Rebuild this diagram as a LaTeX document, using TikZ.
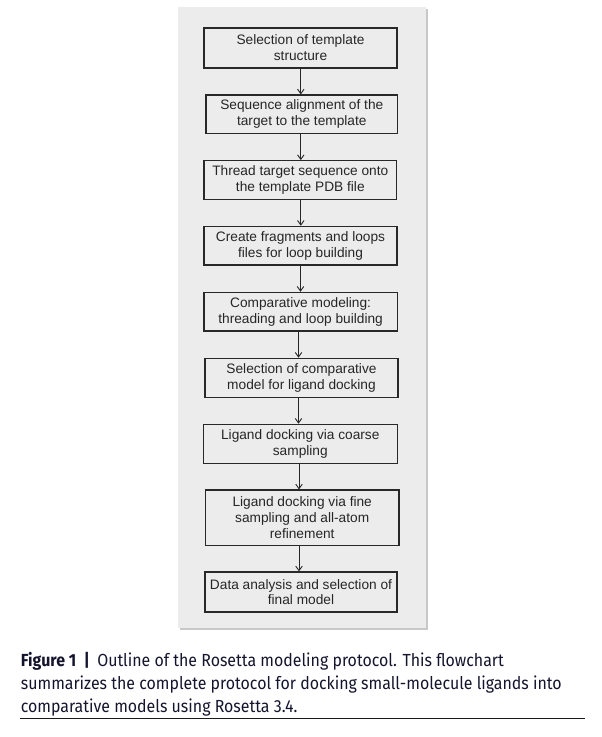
\documentclass[tikz,border=0pt]{standalone}
\usepackage{fontspec}
\setmainfont{Liberation Sans}
\newfontfamily\capfont[FakeStretch=0.91]{Fira Sans}
\usetikzlibrary{arrows.meta}
\definecolor{panelgray}{RGB}{236,236,236}
\definecolor{shadowgray}{RGB}{200,200,200}
\definecolor{boxline}{RGB}{40,40,40}
\definecolor{captext}{RGB}{20,20,45}
\tikzset{
  stepbox/.style={draw=boxline, line width=1.2pt, fill=panelgray, align=center,
    inner sep=0pt, text=black!85,
    font=\fontsize{13.7}{15.8}\selectfont},
  arr/.style={draw=black!85, line width=1pt,
    -{Straight Barb[length=4.5pt,width=6.5pt,line width=0.9pt]}},
  captext/.style={anchor=base west, inner sep=0pt, text=captext,
    font=\capfont\fontsize{17.5}{23}\selectfont}
}
\begin{document}
\begin{tikzpicture}[x=1pt,y=-1pt]
\useasboundingbox (0,0) rectangle (602,737);
% panel with slight shadow
\fill[shadowgray] (179.5,8.5) rectangle (427.5,629.5);
\fill[panelgray] (178,7) rectangle (426,628);
% boxes
\node[stepbox, minimum width=193pt, minimum height=40pt] (b1) at (300.5,48)
  {Selection of template\\structure};
\node[stepbox, minimum width=191.7pt, minimum height=38.3pt] (b2) at (301.8,114.2)
  {Sequence alignment of the\\target to the template};
\node[stepbox, minimum width=192.7pt, minimum height=38.6pt] (b3) at (300.3,180)
  {Thread target sequence onto\\the template PDB file};
\node[stepbox, minimum width=193pt, minimum height=38.7pt] (b4) at (300.5,245.7)
  {Create fragments and loops\\files for loop building};
\node[stepbox, minimum width=193.3pt, minimum height=38.7pt] (b5) at (300.6,311.7)
  {Comparative modeling:\\threading and loop building};
\node[stepbox, minimum width=193pt, minimum height=39pt] (b6) at (301.5,377.8)
  {Selection of comparative\\model for ligand docking};
\node[stepbox, minimum width=194pt, minimum height=39pt] (b7) at (300.3,443.8)
  {Ligand docking via coarse\\sampling};
\node[stepbox, minimum width=193.7pt, minimum height=55.3pt] (b8) at (302.2,517.7)
  {Ligand docking via fine\\sampling and all-atom\\refinement};
\node[stepbox, minimum width=192pt, minimum height=40pt] (b9) at (301,592)
  {Data analysis and selection of\\final model};
% connectors
\coordinate (a1) at (300.8,0);
\coordinate (a5) at (298.5,0);
\coordinate (a8) at (299,0);
\draw[arr] (b1.south -| a1) -- (b2.north -| a1);
\draw[arr] (b2.south -| a1) -- (b3.north -| a1);
\draw[arr] (b3.south -| a1) -- (b4.north -| a1);
\draw[arr] (b4.south -| b4) -- (b5.north -| b4);
\draw[arr] (b5.south -| a5) -- (b6.north -| a5);
\draw[arr] (b6.south -| a5) -- (b7.north -| a5);
\draw[arr] (b7.south -| a8) -- (b8.north -| a8);
\draw[arr] (b8.south -| a8) -- (b9.north -| a8);
% caption
\node[captext] (cap1) at (20.7,666)
  {\textbf{Figure 1}\hspace{7.5pt}\textbf{|}\hspace{7.5pt}Outline of the Rosetta modeling protocol. This flowchart};
\node[captext] (cap2) at (20.7,689)
  {summarizes the complete protocol for docking small-molecule ligands into};
\node[captext] (cap3) at (20.7,712)
  {comparative models using Rosetta 3.4.};
\coordinate (r1) at (20,718.7);
\coordinate (r2) at (585,718.7);
\draw[line width=1pt, black!90] (r1) -- (r2);
\end{tikzpicture}
\end{document}
